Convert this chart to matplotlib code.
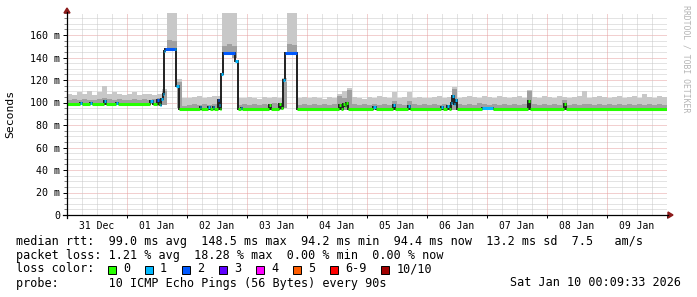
import numpy as np
import matplotlib
matplotlib.use("Agg")
import matplotlib.pyplot as plt
from matplotlib.lines import Line2D
from matplotlib.patches import Polygon, Rectangle

# --- data (hours since graph start, Dec 31 00:09:33) ---
start_min = 9 + 33 / 60          # minutes past midnight at graph start
day_labels = ["31 Dec", "01 Jan", "02 Jan", "03 Jan", "04 Jan",
              "05 Jan", "06 Jan", "07 Jan", "08 Jan", "09 Jan"]

# median rtt (ms), as steps: start hour, value, loss count
med_t = [0, 5.2, 6.0, 9.2, 10.0, 14.8, 15.6, 19.6, 20.4, 33.2, 34.4, 36.0, 36.8, 37.2, 37.6, 38.4, 38.8, 39.2, 43.2, 43.6, 44.8,
         53.2, 53.6, 56.4, 57.2, 58.4, 58.8, 60.4, 60.8, 61.2, 61.6, 62.4, 67.2, 68.4, 69.6, 70.0,
         80.8, 81.6, 84.8, 85.6, 86.4, 87.2, 92.0,
         108.8, 109.6, 110.4, 111.2, 111.6, 112.4,
         122.4, 123.6, 130.4, 131.2, 136.4, 137.2,
         149.6, 150.4, 152.0, 152.8, 153.6, 154.0, 154.8, 155.2, 156.0,
         166.0, 170.4, 184.4, 185.2, 198.8, 199.6]
med_v = [99, 100, 99, 100, 99, 101, 99, 100, 99, 101, 99, 102, 99, 98, 103, 108, 146, 148, 148, 115, 94,
         96, 94, 96, 94, 96, 94, 102, 98, 94, 125, 144, 137, 94, 95, 94,
         98, 94, 99, 95, 120, 144, 94,
         98, 94, 99, 97, 100, 94,
         96, 94, 98, 94, 97, 94,
         96, 94, 97, 94, 100, 106, 99, 102, 94,
         95, 94, 101, 94, 99, 94]
med_loss = [0, 1, 0, 1, 0, 1, 0, 1, 0, 1, 0, 2, 0, 1, 1, 1, 1, 2, 1, 1, 0,
            1, 0, 1, 0, 1, 0, 2, 1, 0, 1, 2, 1, 0, 1, 0,
            0, 0, 0, 0, 1, 2, 0,
            0, 0, 0, 0, 0, 0,
            1, 0, 1, 0, 1, 0,
            1, 0, 1, 0, 1, 1, 1, 1, 0,
            1, 0, 0, 0, 0, 0]

# smoke, 2 hour bins (one row per day)
smoke_lo = [98.5, 98.5, 98.5, 98.5, 98.5, 98.5, 98.5, 98.5, 98.5, 98.5, 98.5, 98.5,
            98.5, 98.5, 98.5, 98.5, 98.5, 98.5, 97, 98, 146, 146, 95, 93.5,
            93.5, 93.5, 93.5, 93.5, 93.5, 93.5, 93.5, 143, 143, 140, 93.5, 93.5,
            93.5, 93.5, 93.5, 93.5, 93.5, 93.5, 93.5, 95, 143, 143, 93.5, 93.5,
            93.5, 93.5, 93.5, 93.5, 93.5, 93.5, 93.5, 93.5, 93.5, 93.5, 93.5, 93.5,
            93.5, 93.5, 93.5, 93.5, 93.5, 93.5, 93.5, 93.5, 93.5, 93.5, 93.5, 93.5,
            93.5, 93.5, 93.5, 93.5, 93.5, 93.5, 93.5, 93.5, 93.5, 93.5, 93.5, 93.5,
            93.5, 93.5, 93.5, 93.5, 93.5, 93.5, 93.5, 93.5, 93.5, 93.5, 93.5, 93.5,
            93.5, 93.5, 93.5, 93.5, 93.5, 93.5, 93.5, 93.5, 93.5, 93.5, 93.5, 93.5,
            93.5, 93.5, 93.5, 93.5, 93.5, 93.5, 93.5, 93.5, 93.5, 93.5, 93.5, 93.5]
smoke_mid = [102, 103, 102, 103, 102, 102, 103, 104, 103, 102, 103, 102,
             102, 103, 102, 103, 102, 103, 104, 110, 156, 155, 118, 97,
             98, 99, 98, 99, 98, 99, 101, 150, 152, 150, 98, 99,
             98, 99, 98, 99, 98, 100, 99, 118, 152, 151, 98, 99,
             98, 99, 98, 99, 98, 99, 106, 104, 111, 99, 98, 99,
             98, 99, 98, 99, 98, 101, 99, 98, 101, 99, 98, 99,
             98, 99, 98, 99, 98, 112, 99, 98, 99, 98, 100, 99,
             98, 99, 98, 99, 98, 99, 98, 99, 110, 99, 98, 99,
             98, 99, 98, 102, 98, 99, 98, 99, 99, 98, 99, 98,
             99, 98, 99, 98, 99, 98, 99, 98, 99, 98, 99, 98]
smoke_hi = [108, 107, 109, 108, 110, 107, 109, 115, 108, 109, 108, 107,
            108, 109, 107, 108, 108, 107, 108, 112, 180, 180, 121, 104,
            104, 105, 106, 104, 105, 106, 106, 180, 180, 180, 104, 104,
            105, 104, 103, 105, 104, 105, 104, 122, 180, 180, 104, 105,
            104, 105, 104, 103, 105, 104, 108, 110, 113, 105, 104, 103,
            105, 104, 106, 105, 104, 109, 104, 105, 109, 104, 105, 104,
            104, 105, 106, 104, 105, 114, 104, 105, 106, 105, 104, 106,
            105, 104, 106, 105, 104, 105, 106, 104, 111, 105, 104, 106,
            105, 104, 106, 105, 104, 105, 106, 110, 104, 105, 106, 105,
            104, 105, 106, 104, 105, 106, 104, 108, 105, 104, 106, 105]

loss_labels = ["0", "1", "2", "3", "4", "5", "6-9", "10/10"]
loss_colors = ["#26ff00", "#00b8ff", "#0059ff", "#5e00ff", "#ff00ff", "#ff5e00", "#ff0000", "#a10000"]

line_rtt = "median rtt:  99.0 ms avg  148.5 ms max  94.2 ms min  94.4 ms now  13.2 ms sd  7.5   am/s"
line_loss = "packet loss: 1.21 % avg  18.28 % max  0.00 % min  0.00 % now"
line_probe = "probe:       10 ICMP Echo Pings (56 Bytes) every 90s"
stamp = "Sat Jan 10 00:09:33 2026"

# --- figure ---
W, H = 697, 297
MONO = "DejaVu Sans Mono"
plt.rcParams["font.family"] = MONO


def px(x, y):
    return x / W, 1 - y / H


fig = plt.figure(figsize=(W / 100, H / 100), dpi=100)
ax = fig.add_axes([67 / W, 82 / H, 600 / W, 202.5 / H])
ax.set_xlim(0, 240)
ax.set_ylim(0, 180)
for s in ax.spines.values():
    s.set_visible(False)

t0 = start_min / 60
# grid
for y in range(5, 180, 5):
    c = "#e6a0a0" if y % 20 == 0 else "#c8c8c8"
    ax.axhline(y, color=c, lw=0.72, ls=(0, (1, 1)), zorder=0)
for k in range(1, 41):
    c = "#e6a0a0" if k % 4 == 0 else "#c8c8c8"
    ax.axvline(-t0 + 6 * k, color=c, lw=0.72, ls=(0, (1, 1)), zorder=0)

# smoke
edges = np.arange(0, 241, 2)
ax.stairs(smoke_hi, edges, baseline=smoke_lo, fill=True, color="#c8c8c8", lw=0, zorder=1)
ax.stairs(smoke_mid, edges, baseline=smoke_lo, fill=True, color="#a0a0a0", lw=0, zorder=2)

# median
med_edges = list(med_t) + [240]
ax.stairs(med_v, med_edges, baseline=None, color="#202020", lw=1.4, zorder=3)
ax.hlines(med_v, med_t, med_edges[1:], colors=[loss_colors[l] for l in med_loss],
          lw=2.2, zorder=4, capstyle="butt")

# ticks
ax.set_yticks(range(0, 161, 20))
ax.set_yticklabels(["0"] + ["%d m" % v for v in range(20, 161, 20)])
ax.set_yticks(range(0, 181, 5), minor=True)
ax.tick_params(axis="y", which="major", length=3, width=0.7, pad=2, labelsize=7.2)
ax.tick_params(axis="y", which="minor", length=2, width=0.7, color="#808080")
ax.set_xticks([-t0 + 12 + 24 * d for d in range(10)])
ax.set_xticklabels(day_labels)
ax.set_xticks([-t0 + 24 * d for d in range(1, 11)], minor=True)
ax.tick_params(axis="x", which="major", length=0, pad=4, labelsize=7)
ax.tick_params(axis="x", which="minor", length=2.5, width=0.7)

# axes lines and arrows
fig.add_artist(Line2D([67 / W, 67 / W], [1 - 218 / H, 1 - 12 / H], color="black", lw=0.9))
fig.add_artist(Line2D([63 / W, 668 / W], [1 - 215 / H, 1 - 215 / H], color="black", lw=0.9))
fig.add_artist(Polygon([px(64, 13), px(70, 13), px(67, 8)], closed=True, color="#8b1a1a"))
fig.add_artist(Polygon([px(668, 212), px(668, 218), px(673, 215)], closed=True, color="#8b1a1a"))

# side texts
fig.text(*px(10, 114), "Seconds", rotation=90, ha="center", va="center", fontsize=8.2)
fig.text(*px(686, 5), "RRDTOOL / TOBI OETIKER", rotation=270, ha="center", va="top",
         fontsize=5.9, color="#b4b4b4")

# legend
fs = 8.5
fig.text(*px(16, 241), line_rtt, fontsize=fs, va="center")
fig.text(*px(16, 255), line_loss, fontsize=fs, va="center")
fig.text(*px(16, 269), "loss color:", fontsize=fs, va="center")
fig.text(*px(16, 283), line_probe, fontsize=fs, va="center")
fig.text(*px(681, 283), stamp, fontsize=fs, va="center", ha="right")

bx = 108
for lab, col in zip(loss_labels, loss_colors):
    fig.add_artist(Rectangle(px(bx, 273.5), 8 / W, 8 / H, facecolor=col,
                             edgecolor="black", lw=0.7))
    fig.text(*px(bx + 15, 269), lab, fontsize=fs, va="center")
    bx += 37 + 7.08 * (len(lab) - 1)

fig.savefig("out.png", dpi=100)
